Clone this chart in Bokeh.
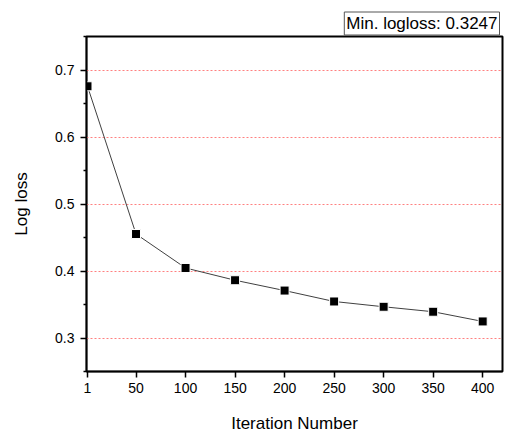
from bokeh.plotting import figure
from bokeh.models import Range1d, FixedTicker, Title
from bokeh.embed import file_html
from bokeh.resources import INLINE

iterations = [1, 50, 100, 150, 200, 250, 300, 350, 400]
logloss = [0.6757, 0.4552, 0.4045, 0.3862, 0.3708, 0.3545, 0.3466, 0.3392, 0.3247]
x_ticks = [1, 50, 100, 150, 200, 250, 300, 350, 400]
y_ticks = [0.3, 0.4, 0.5, 0.6, 0.7]
y_minor = [0.25, 0.35, 0.45, 0.55, 0.65, 0.75]
min_text = "Min. logloss: 0.3247"

FONT = "Liberation Sans"

p = figure(width=505, height=435, output_backend="svg", toolbar_location=None,
           x_range=Range1d(0, 420), y_range=Range1d(0.25, 0.75),
           min_border_left=86, min_border_right=3, min_border_top=36, min_border_bottom=62)

p.outline_line_color = "black"
p.outline_line_width = 2
p.outline_line_alpha = 1
p.background_fill_color = "white"
p.border_fill_color = "white"

p.title = Title(text=min_text, align="right", text_font=FONT, text_font_size="17px",
                text_font_style="normal", text_color="black",
                border_line_color="#555555", border_line_width=1,
                background_fill_color="white", padding=2, offset=3, standoff=3)

# grid
p.xgrid.grid_line_color = None
p.ygrid.grid_line_color = "#ff8080"
p.ygrid.grid_line_dash = "2 2"
p.ygrid.grid_line_width = 1
p.ygrid.ticker = FixedTicker(ticks=y_ticks)

for ax in (p.xaxis[0], p.yaxis[0]):
    ax.axis_label_text_font = FONT
    ax.axis_label_text_font_size = "17px"
    ax.axis_label_text_font_style = "normal"
    ax.axis_label_text_color = "black"
    ax.major_label_text_font = FONT
    ax.major_label_text_font_size = "14px"
    ax.major_label_text_color = "black"
    ax.axis_line_color = "black"
    ax.axis_line_width = 1.5
    ax.major_tick_line_color = "black"
    ax.major_tick_line_width = 1.5
    ax.minor_tick_line_color = "black"
    ax.minor_tick_line_width = 1.5
    ax.major_tick_in = 0
    ax.major_tick_out = 6
    ax.minor_tick_in = 0

# x axis
p.xaxis.ticker = FixedTicker(ticks=x_ticks)
p.xaxis.axis_label = "Iteration Number"
p.xaxis.axis_label_standoff = 18
p.xaxis.major_label_standoff = 5
p.xaxis.minor_tick_out = 0

# y axis
p.yaxis.ticker = FixedTicker(ticks=y_ticks, minor_ticks=y_minor)
p.yaxis.axis_label = "Log loss"
p.yaxis.axis_label_standoff = 21
p.yaxis.major_label_standoff = 6
p.yaxis.minor_tick_out = 3

p.line(iterations, logloss, line_color="#404040", line_width=1)
p.scatter(iterations, logloss, marker="square", size=9, fill_color="black",
          line_color="white", line_width=1)

open("out.html", "w").write(file_html(p, INLINE))
